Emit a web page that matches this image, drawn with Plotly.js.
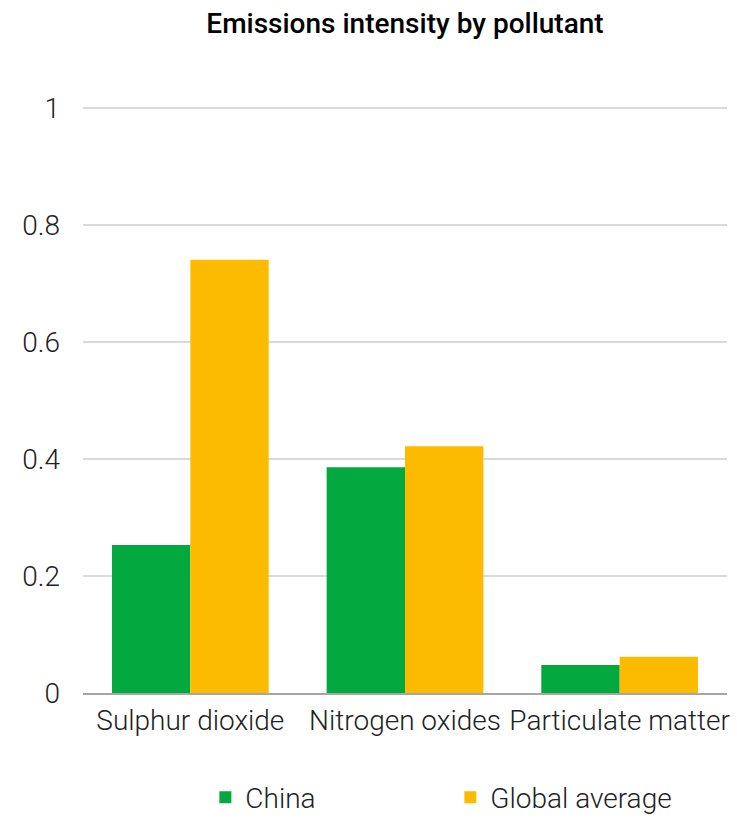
<!DOCTYPE html>
<html>
<head>
<meta charset="utf-8">
<script src="https://cdn.plot.ly/plotly-3.0.1.min.js"></script>
<style>html,body{margin:0;padding:0;background:#fff;}#chart{width:737px;height:818px;}</style>
</head>
<body>
<div id="chart"></div>
<script>
const categories = ["Sulphur dioxide", "Nitrogen oxides", "Particulate matter"];
const chinaValues = [0.253, 0.386, 0.048];
const globalValues = [0.741, 0.422, 0.062];
const seriesNames = ["China", "Global average"];
const yTickVals = [0, 0.2, 0.4, 0.6, 0.8, 1];
const yTickText = ["0", "0.2", "0.4", "0.6", "0.8", "1"];

const traces = [
  {type: "bar", name: seriesNames[0], x: categories, y: chinaValues, marker: {color: "#03a83e"}, hoverinfo: "x+y+name"},
  {type: "bar", name: seriesNames[1], x: categories, y: globalValues, marker: {color: "#fdbb00"}, hoverinfo: "x+y+name"}
];

const layout = {
  width: 737, height: 818,
  paper_bgcolor: "#fff", plot_bgcolor: "#fff",
  margin: {l: 83, r: 10, t: 107, b: 125, autoexpand: false},
  font: {family: "Roboto, 'Open Sans', sans-serif", size: 28, color: "#222", weight: 300},
  title: {text: "Emissions intensity by pollutant", x: 0.5, xref: "paper", xanchor: "center", y: 0.972, yref: "container", yanchor: "middle",
          font: {family: "Roboto, sans-serif", size: 28, color: "#000", weight: 500}},
  barmode: "group", bargap: 0.27, bargroupgap: 0,
  xaxis: {showgrid: false, showline: true, linecolor: "#a6a6a6", linewidth: 2, ticks: "", ticklabelstandoff: 1, automargin: false,
          tickfont: {size: 28, color: "#222", weight: 300}, fixedrange: true},
  yaxis: {range: [0, 1.002], tickvals: yTickVals, ticktext: yTickText, showgrid: true, gridcolor: "#d9d9d9", gridwidth: 2, automargin: false,
          showline: false, zeroline: false, ticks: "", ticklabelstandoff: 22, tickfont: {size: 28, color: "#222", weight: 300}, fixedrange: true},
  showlegend: true,
  legend: {orientation: "h", x: 0.19, xanchor: "left", y: 0.025, yref: "container", yanchor: "middle", entrywidth: 200, entrywidthmode: "pixels",
           font: {size: 28, color: "#222", weight: 300}, itemclick: false, itemdoubleclick: false}
};

Plotly.newPlot("chart", traces, layout, {displayModeBar: false});
</script>
</body>
</html>
